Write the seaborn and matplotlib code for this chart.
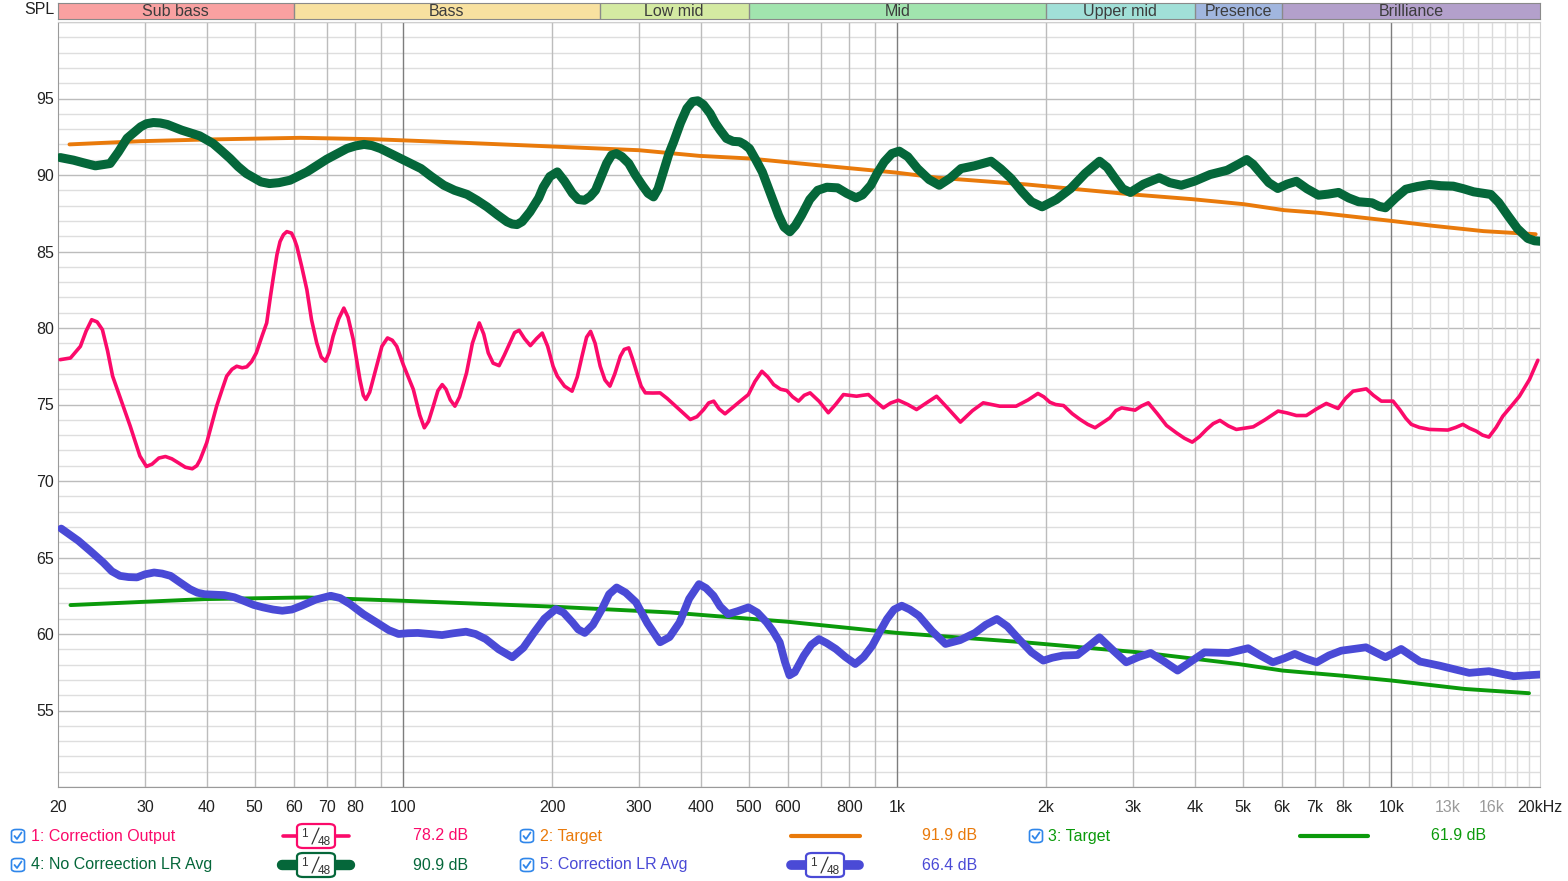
import matplotlib
matplotlib.use("Agg")
import matplotlib.pyplot as plt
from matplotlib.patches import FancyBboxPatch
from matplotlib.lines import Line2D
import seaborn as sns
import pandas as pd

# ---------------- data ----------------
corr_out_f = [20.2, 21.2, 22.2, 22.8, 23.4, 24.0, 24.6, 25.2, 25.8, 26.8, 28.0, 29.3, 30.2, 31.0, 32.0, 33.0, 34.0,
              35.0, 36.2, 37.4, 38.2, 38.8, 40.0, 41.9, 43.0, 43.9, 45, 46.0, 47.2, 48.2, 49.3, 50.4, 51.8, 52.9,
              53.8, 54.6, 55.5, 56.3, 57.2, 58.1, 59.4, 60.2, 60.9, 62.3, 63.8, 65.2, 66.8, 68.2, 69.6, 70.8, 72.1,
              74, 75.8, 77.3, 79.2, 81.7, 83, 84.0, 85.5, 88.3, 90.5, 92.9, 95, 97.0, 100, 104.8, 108, 110.3, 112.5,
              115, 117.5, 119.9, 122, 124.5, 127.2, 130, 134.3, 138, 142.5, 145.5, 148.6, 152, 156.3, 160, 164.3,
              168, 171.6, 176, 180.8, 186, 191.1, 196, 201, 205, 212, 219.6, 225, 230, 235, 239.4, 244.5, 250.4,
              256, 262, 268, 275, 280, 286, 291, 297, 303, 309, 320, 331, 342, 353, 367, 381, 393, 405.6, 415, 425,
              436, 448, 464, 481, 499.5, 515, 532, 547, 562, 580, 597.6, 614, 631, 648, 666, 695, 725, 750, 778,
              800, 827, 850, 874, 905, 937, 970, 1005, 1050, 1094, 1145, 1201, 1270, 1342, 1420, 1493, 1550, 1612,
              1740, 1840, 1926, 1980, 2036, 2091, 2171, 2260, 2345, 2430, 2514, 2600, 2694, 2770, 2846, 3029, 3120,
              3222, 3360, 3507, 3672, 3810, 3954, 4090, 4227, 4360, 4499, 4680, 4856, 5255, 5550, 5900, 6150, 6425,
              6730, 7050, 7387, 7600, 7802, 8080, 8368, 8902, 9200, 9545, 10080, 10400, 10700, 10980, 11400, 11950,
              13020, 13500, 13960, 14400, 14860, 15300, 15760, 16300, 16820, 17500, 18170, 19040, 19800]
corr_out_db = [77.93, 78.04, 78.8, 79.8, 80.54, 80.4, 79.89, 78.5, 76.85, 75.33, 73.59, 71.63, 70.95, 71.1, 71.5, 71.6, 71.45,
               71.2, 70.9, 70.8, 71.0, 71.4, 72.5, 74.9, 76.0, 76.85, 77.3, 77.5, 77.4, 77.46, 77.8, 78.37, 79.5, 80.33,
               82.0, 83.37, 84.8, 85.65, 86.1, 86.3, 86.2, 85.8, 85.33, 84.0, 82.5, 80.54, 79.02, 78.1, 77.83, 78.4, 79.46,
               80.6, 81.3, 80.7, 79.24, 76.63, 75.6, 75.33, 75.8, 77.5, 78.8, 79.35, 79.2, 78.8, 77.6, 75.98, 74.3, 73.48, 73.9,
               74.89, 75.9, 76.3, 76.0, 75.3, 74.89, 75.5, 77.07, 79.0, 80.33, 79.6, 78.37, 77.7, 77.54, 78.2, 79.02,
               79.7, 79.85, 79.3, 78.85, 79.3, 79.67, 78.8, 77.5, 76.85, 76.2, 75.87, 76.8, 78.15, 79.4, 79.78, 79.0, 77.5,
               76.6, 76.2, 77.0, 78.15, 78.6, 78.7, 78.0, 77.07, 76.2, 75.76, 75.75, 75.76, 75.4, 75.0, 74.5, 74.02, 74.2, 74.67, 75.1, 75.22,
               74.7, 74.39, 74.8, 75.22, 75.65, 76.5, 77.17, 76.8, 76.3, 76.0, 75.91, 75.5, 75.22, 75.6, 75.76, 75.2, 74.46, 75.0, 75.65,
               75.6, 75.54, 75.6, 75.65, 75.2, 74.78, 75.1, 75.28, 75.0, 74.67, 75.1, 75.54, 74.7, 73.85, 74.6, 75.11, 75.0, 74.89,
               74.89, 75.3, 75.72, 75.5, 75.15, 75.0, 74.93, 74.4, 74.02, 73.7, 73.48, 73.8, 74.13, 74.6, 74.78, 74.63, 74.9,
               75.11, 74.4, 73.63, 73.15, 72.8, 72.54, 72.9, 73.37, 73.75, 73.96, 73.6, 73.37, 73.54, 74.0, 74.57, 74.45, 74.28,
               74.28, 74.7, 75.07, 74.9, 74.74, 75.4, 75.87, 76.02, 75.6, 75.22, 75.22, 74.67, 74.1, 73.7, 73.5, 73.37,
               73.33, 73.5, 73.7, 73.45, 73.26, 73.0, 72.87, 73.5, 74.24, 74.9, 75.54, 76.63, 77.89]

target_hi_f = [21.1, 29.4, 40, 61.9, 87.1, 118.7, 188, 300, 397.6, 502, 690, 993, 1209, 1830, 2987,
               3954, 5035, 6071, 7120, 9940, 12140, 15380, 19600]
target_hi_db = [92.0, 92.21, 92.32, 92.43, 92.34, 92.17, 91.9, 91.62, 91.25, 91.08, 90.64, 90.16, 89.82, 89.38, 88.73,
                88.42, 88.09, 87.7, 87.53, 87.01, 86.68, 86.33, 86.13]

target_lo_f = [21.2, 39.6, 63.6, 100, 196.9, 346, 600, 1000, 1805, 3186, 4897, 6020, 7920, 10000, 14050, 19000]
target_lo_db = [61.89, 62.28, 62.39, 62.17, 61.8, 61.41, 60.8, 60.07, 59.46, 58.76, 58.04, 57.61, 57.28, 56.96, 56.41, 56.13]

no_corr_f = [20.2, 21.5, 22.5, 23.8, 25.5, 26.5, 27.6, 29.4, 30.2, 31.2, 32.2, 33.3, 35.6, 38.7, 41.2, 42.8, 44.6,
             46.3, 48.1, 51.5, 53.6, 56, 59, 63.8, 70, 76.9, 80, 83.3, 86.5, 89.9, 100.3, 108.6, 114, 120.8, 127,
             134.6, 141, 147.7, 155, 162.2, 166, 169.9, 174, 180.5, 188, 192, 198, 205, 212, 220, 226, 232.7, 239,
             245, 258, 264, 270, 277, 286, 295, 305, 313, 321, 328, 337, 345, 352.6, 364, 375, 385, 394.7, 405, 418,
             428, 438, 451, 465, 479.5, 490, 502, 517, 533, 555, 575, 590, 606, 622, 640, 665, 690, 720, 757, 790,
             825, 850, 884, 910, 941, 975, 1009, 1050, 1099, 1160, 1216, 1280, 1346, 1433, 1490, 1548, 1620, 1700,
             1790, 1869, 1964, 2100, 2245, 2400, 2567, 2660, 2760, 2860, 2964, 3150, 3390, 3560, 3758, 4000, 4298,
             4653, 4900, 5098, 5250, 5448, 5650, 5891, 6150, 6425, 6750, 7120, 7450, 7822, 8200, 8588, 9142, 9450,
             9730, 10200, 10700, 11300, 11950, 12600, 13350, 14000, 14680, 15900, 16500, 17200, 18000, 18900, 19500, 20000]
no_corr_db = [91.14, 90.97, 90.8, 90.6, 90.75, 91.5, 92.4, 93.15, 93.35, 93.43, 93.4, 93.3, 92.93, 92.56, 92.06, 91.6, 91.08,
              90.55, 90.1, 89.55, 89.44, 89.5, 89.66, 90.2, 91.03, 91.73, 91.9, 92.0, 91.92, 91.73, 90.97, 90.42, 89.9, 89.33, 89.0,
              88.73, 88.35, 87.92, 87.4, 86.94, 86.8, 86.76, 86.95, 87.59, 88.5, 89.2, 89.9, 90.2, 89.6, 88.8, 88.4, 88.35, 88.6,
              89.0, 90.76, 91.3, 91.4, 91.2, 90.76, 90.0, 89.3, 88.8, 88.57, 89.1, 90.33, 91.4, 92.17, 93.4, 94.35, 94.8, 94.85, 94.6, 94.02,
              93.4, 92.93, 92.39, 92.2, 92.17, 92.0, 91.73, 91.0, 90.2, 88.7, 87.37, 86.6, 86.29, 86.7, 87.37, 88.4, 89.0, 89.2, 89.16, 88.8,
              88.51, 88.7, 89.33, 90.1, 90.86, 91.4, 91.56, 91.2, 90.42, 89.7, 89.33, 89.8, 90.42, 90.6, 90.75, 90.9, 90.4, 89.77,
              88.9, 88.25, 87.92, 88.4, 89.12, 90.1, 90.9, 90.5, 89.77, 89.1, 88.86, 89.4, 89.82, 89.5, 89.33, 89.6, 90.03,
              90.31, 90.7, 91.01, 90.7, 90.1, 89.5, 89.12, 89.4, 89.59, 89.1, 88.68, 88.75, 88.86, 88.5, 88.25, 88.18, 87.95,
              87.86, 88.5, 89.07, 89.25, 89.38, 89.3, 89.27, 89.1, 88.9, 88.73, 88.2, 87.37, 86.5, 85.85, 85.7, 85.67]

corr_avg_f = [20.3, 22.0, 23.3, 24.7, 25.7, 26.7, 27.8, 28.9, 30.0, 31.3, 32.5, 33.8, 35.4, 37.0, 38.3, 39.6, 41.5,
              43.4, 45.5, 47.5, 49.8, 52.0, 54.5, 56.9, 59.5, 62.3, 66.5, 71.3, 74.5, 78.0, 83, 89.3, 93.5, 97.8,
              102, 107, 113, 119.8, 126.5, 134, 140, 146.8, 156, 166.2, 175, 184, 193, 203.6, 211, 220, 226, 233,
              242, 252.4, 261, 270.3, 282, 295.9, 312, 331, 346, 362.5, 379, 396.8, 410, 424.6, 438, 454.4, 476,
              499.5, 521, 543.9, 560, 578, 592, 605, 620, 647, 670, 694, 720, 751, 785, 822, 855, 890, 920, 953,
              985, 1021, 1060, 1105, 1175, 1252, 1340, 1436, 1510, 1591, 1670, 1762, 1870, 1975, 2060, 2163, 2316,
              2440, 2566, 2720, 2907, 3080, 3258, 3470, 3693, 3930, 4186, 4686, 5129, 5430, 5757, 6060, 6378, 6700,
              7063, 7480, 7920, 8886, 9300, 9731, 10100, 10470, 10950, 11430, 12530, 13400, 14380, 15760, 16700,
              17690, 18800, 20000]
corr_avg_db = [66.89, 66.09, 65.4, 64.67, 64.1, 63.8, 63.72, 63.7, 63.9, 64.02, 63.95, 63.8, 63.35, 62.93, 62.7, 62.6, 62.57,
               62.54, 62.4, 62.17, 61.9, 61.74, 61.6, 61.52, 61.6, 61.85, 62.25, 62.5, 62.35, 61.96, 61.3, 60.65, 60.25, 60.0,
               60.05, 60.07, 60.0, 59.93, 60.05, 60.15, 60.0, 59.67, 59.0, 58.48, 59.1, 60.1, 61.0, 61.63, 61.4, 60.76, 60.3, 60.07,
               60.6, 61.63, 62.6, 63.04, 62.7, 62.07, 60.7, 59.46, 59.8, 60.76, 62.3, 63.26, 63.0, 62.5, 61.8, 61.3, 61.5,
               61.74, 61.4, 60.76, 60.2, 59.46, 58.2, 57.3, 57.5, 58.59, 59.3, 59.67, 59.4, 59.02, 58.5, 58.04, 58.5, 59.24, 60.1, 60.98,
               61.6, 61.85, 61.6, 61.2, 60.2, 59.35, 59.6, 60.07, 60.6, 60.98, 60.5, 59.67, 58.8, 58.26, 58.45, 58.59, 58.63,
               59.2, 59.78, 59.0, 58.15, 58.5, 58.76, 58.2, 57.61, 58.2, 58.8, 58.76, 59.07, 58.6, 58.15, 58.4, 58.7, 58.4,
               58.15, 58.6, 58.91, 59.13, 58.8, 58.48, 58.75, 59.02, 58.6, 58.2, 57.93, 57.7, 57.46, 57.57, 57.4,
               57.24, 57.3, 57.35]

band_names = ["Sub bass", "Bass", "Low mid", "Mid", "Upper mid", "Presence", "Brilliance"]
band_edges = [20, 60, 250, 500, 2000, 4000, 6000, 20000]
band_colors = ["#f9a1a1", "#f8e1a0", "#d4eaa2", "#a1e4ae", "#a1e0d8", "#a1b6df", "#b3a0cb"]

xtick_pos = [20, 30, 40, 50, 60, 70, 80, 100, 200, 300, 400, 500, 600, 800, 1000,
             2000, 3000, 4000, 5000, 6000, 7000, 8000, 10000, 13000, 16000, 20000]
xtick_lab = ["20", "30", "40", "50", "60", "70", "80", "100", "200", "300", "400", "500", "600", "800", "1k",
             "2k", "3k", "4k", "5k", "6k", "7k", "8k", "10k", "13k", "16k", "20kHz"]
ytick_pos = [55, 60, 65, 70, 75, 80, 85, 90, 95]

leg_labels = ["1: Correction Output", "2: Target", "3: Target", "4: No Correection LR Avg", "5: Correction LR Avg"]
leg_values = ["78.2 dB", "91.9 dB", "61.9 dB", "90.9 dB", "66.4 dB"]

C_PINK, C_ORANGE, C_GREEN, C_DKGREEN, C_BLUE = "#fb0a6a", "#e97a0b", "#0b9a0b", "#05673a", "#4a4ad6"

# ---------------- figure ----------------
W, H = 1568, 881
def fx(px): return px / W
def fy(py): return 1 - py / H

sns.set_style("white")
plt.rcParams['font.family'] = ['Liberation Sans', 'DejaVu Sans']

fig = plt.figure(figsize=(W / 100, H / 100), dpi=100)
ax = fig.add_axes([fx(58), fy(787), fx(1540) - fx(58), fy(22) - fy(787)])
ax.set_xscale('log')
ax.set_xlim(20, 20000)
ax.set_ylim(50, 100)

# grid
for v in range(50, 101):
    ax.axhline(v, color='#bcbcbc' if v % 5 == 0 else '#dedede', lw=1, zorder=0)
for dec in [10, 100, 1000]:
    for m in range(2, 10):
        f = dec * m
        if f > 20:
            ax.axvline(f, color='#bcbcbc', lw=1, zorder=0)
for f in [100, 1000, 10000]:
    ax.axvline(f, color='#7d7d7d', lw=1, zorder=0)
for k in range(1, 10):
    ax.axvline(10000 + 1000 * k, color='#dadada', lw=1, zorder=0)

def draw(fs, dbs, color, lw, z):
    d = pd.DataFrame({"f": fs, "db": dbs})
    sns.lineplot(data=d, x="f", y="db", ax=ax, color=color, lw=lw, sort=False,
                 estimator=None, zorder=z, solid_capstyle='round', solid_joinstyle='round')

draw(corr_out_f, corr_out_db, C_PINK, 2.6, 3)
draw(target_hi_f, target_hi_db, C_ORANGE, 2.8, 3)
draw(no_corr_f, no_corr_db, C_DKGREEN, 6.5, 4)
draw(target_lo_f, target_lo_db, C_GREEN, 2.8, 3)
draw(corr_avg_f, corr_avg_db, C_BLUE, 5.6, 4)

ax.set_xlabel("")
ax.set_ylabel("")
ax.xaxis.set_minor_locator(matplotlib.ticker.NullLocator())
ax.set_xticks(xtick_pos)
ax.set_xticklabels(xtick_lab)
ax.set_yticks(ytick_pos)
ax.set_yticklabels([str(v) for v in ytick_pos])
ax.tick_params(axis='both', length=0, labelsize=11.5, colors='#222222')
ax.tick_params(axis='x', pad=9)
ax.tick_params(axis='y', pad=3)
for t in ax.get_xticklabels():
    if t.get_text() in ("13k", "16k"):
        t.set_color('#9a9a9a')
for s in ['left', 'bottom']:
    ax.spines[s].set_color('#9a9a9a')
for s in ['top', 'right']:
    ax.spines[s].set_color('#cfcfcf')

fig.text(fx(55), fy(9), "SPL", ha='right', va='center', fontsize=11.5, color='#222222')

# band strip
bax = fig.add_axes([fx(58), fy(19), fx(1540) - fx(58), fy(3) - fy(19)])
bax.set_xscale('log')
bax.set_xlim(20, 20000)
bax.set_ylim(0, 1)
for i, name in enumerate(band_names):
    lo, hi = band_edges[i], band_edges[i + 1]
    bax.axvspan(lo, hi, color=band_colors[i], lw=0)
    if i > 0:
        bax.axvline(lo, color='#8a8a8a', lw=1)
    bax.text((lo * hi) ** 0.5, 0.45, name, ha='center', va='center', fontsize=11.5, color='#3c3c3c')
bax.set_xticks([])
bax.set_yticks([])
bax.xaxis.set_minor_locator(matplotlib.ticker.NullLocator())
for s in bax.spines.values():
    s.set_color('#8a8a8a')

# legend
def checkbox(cx, cy):
    fig.patches.append(FancyBboxPatch((fx(cx - 6.5), fy(cy + 6.5)), fx(13), 13 / H,
                                      boxstyle="round,pad=0,rounding_size=0.003",
                                      transform=fig.transFigure, fc='white', ec='#2f86ea', lw=1.2))
    fig.lines.append(Line2D([fx(cx - 3.5), fx(cx - 1), fx(cx + 3.5)], [fy(cy), fy(cy + 3), fy(cy - 3.5)],
                            transform=fig.transFigure, color='#2f86ea', lw=1.3))

def sample(x0, x1, cy, color, lw, badge):
    fig.lines.append(Line2D([fx(x0), fx(x1)], [fy(cy), fy(cy)], transform=fig.transFigure,
                            color=color, lw=lw, solid_capstyle='round'))
    if badge:
        cx = (x0 + x1) / 2
        fig.patches.append(FancyBboxPatch((fx(cx - 19), fy(cy + 12)), fx(38), 24 / H,
                                          boxstyle="round,pad=0,rounding_size=0.004",
                                          transform=fig.transFigure, fc='white', ec=color, lw=1.6, zorder=5))
        fig.text(fx(cx - 12), fy(cy - 2), "1", fontsize=8.5, color='#333333', ha='center', va='center', zorder=6)
        fig.text(fx(cx + 8), fy(cy + 6), "48", fontsize=8.5, color='#333333', ha='center', va='center', zorder=6)
        fig.lines.append(Line2D([fx(cx - 4), fx(cx + 3)], [fy(cy + 8), fy(cy - 8)], transform=fig.transFigure,
                                color='#333333', lw=0.9, zorder=6))

rows = [836, 865]
cols = [(18, 31, 413), (527, 540, 922), (1036, 1048, 1431)]
leg_cells = [(0, 0), (0, 1), (0, 2), (1, 0), (1, 1)]
leg_colors = [C_PINK, C_ORANGE, C_GREEN, C_DKGREEN, C_BLUE]
leg_samples = [(283, 349, 2.6, True), (791, 860, 3.0, False), (1300, 1368, 3.0, False),
               (282, 350, 7.5, True), (791, 859, 7.0, True)]
for i in range(5):
    r, c = leg_cells[i]
    cy = rows[r]
    bx, tx, vx = cols[c]
    checkbox(bx, cy)
    fig.text(fx(tx), fy(cy), leg_labels[i], ha='left', va='center', fontsize=11.5, color=leg_colors[i])
    x0, x1, lw, badge = leg_samples[i]
    sample(x0, x1, cy, leg_colors[i], lw, badge)
    fig.text(fx(vx), fy(cy), leg_values[i], ha='left', va='center', fontsize=11.5, color=leg_colors[i])

fig.savefig("out.png", dpi=100)
